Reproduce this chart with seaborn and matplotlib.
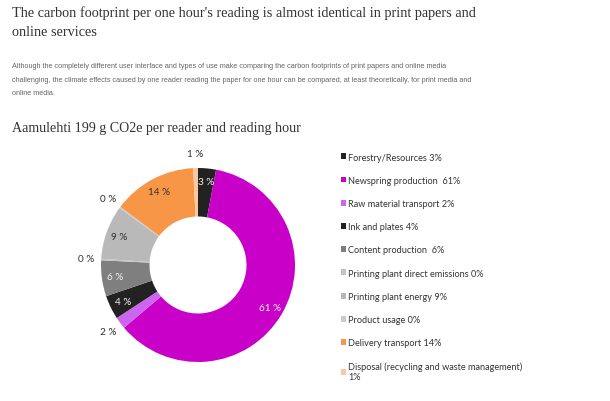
"""
Aamulehti carbon footprint donut chart
"""
import matplotlib
matplotlib.use("Agg")
import matplotlib.pyplot as plt
import seaborn as sns
import numpy as np

# Chart data
categories = [
    "Forestry/Resources 3%",
    "Newspring production  61%",
    "Raw material transport 2%",
    "Ink and plates 4%",
    "Content production  6%",
    "Printing plant direct emissions 0%",
    "Printing plant energy 9%",
    "Product usage 0%",
    "Delivery transport 14%",
    "Disposal (recycling and waste management)\n1%",
]
shares = [3, 61, 2, 4, 6, 0.25, 9, 0.25, 14, 0.8]
pct_labels = ["3 %", "61 %", "2 %", "4 %", "6 %", "0 %", "9 %", "0 %", "14 %", "1 %"]
colors = ["#222222", "#c800c8", "#cc66f0", "#222222", "#7f7f7f",
          "#c4c4c4", "#b9b9b9", "#cacaca", "#f79646", "#fac8a0"]
label_inside = [True, True, False, True, True, False, True, False, True, False]
label_light = [True, True, False, True, True, False, False, False, False, False]

title = ("The carbon footprint per one hour's reading is almost identical in print papers and\n"
         "online services")
intro = ("Although the completely different user interface and types of use make comparing the carbon "
         "footprints of print papers and online media\n"
         "challenging, the climate effects caused by one reader reading the paper for one hour can be "
         "compared, at least theoretically, for print media and\n"
         "online media.")
subtitle = "Aamulehti 199 g CO2e per reader and reading hour"

sns.set_theme(style="white")
plt.rcParams["font.family"] = ["Lato", "DejaVu Sans"]

W, H = 610, 402
fig = plt.figure(figsize=(W / 100, H / 100), dpi=100)
fig.patch.set_facecolor("white")

# header texts
fig.text(12 / W, 1 - 6 / H, title, ha="left", va="top", family="Liberation Serif",
         fontsize=10.3, color="#333333", linespacing=1.62)
fig.text(12 / W, 1 - 63 / H, intro, ha="left", va="top", family="Liberation Sans",
         fontsize=5.2, color="#666666", linespacing=2.3)
fig.text(12 / W, 1 - 122 / H, subtitle, ha="left", va="top", family="Liberation Serif",
         fontsize=10.1, color="#333333")

# donut
cx, cy, r = 198, 266, 97
side = 250
ax = fig.add_axes([(cx - side / 2) / W, (H - cy - side / 2) / H, side / W, side / H])
wedges, _ = ax.pie(shares, colors=colors, startangle=90, counterclock=False,
                   wedgeprops=dict(width=0.5, linewidth=0))
lim = side / 2 / r
ax.set_xlim(-lim, lim)
ax.set_ylim(-lim, lim)
ax.set_aspect("equal")
ax.axis("off")

for w, txt, inside, light in zip(wedges, pct_labels, label_inside, label_light):
    ang = np.deg2rad((w.theta1 + w.theta2) / 2)
    rad = 0.86 if inside else 1.15
    ax.text(rad * np.cos(ang), rad * np.sin(ang), txt, ha="center", va="center",
            fontsize=7.2, color="#f2f2f2" if light else "#333333")

# legend
leg = fig.legend(wedges, categories, loc="upper left", bbox_to_anchor=(336 / W, 1 - 149 / H),
                 frameon=False, fontsize=6.6, handlelength=0.6, handleheight=0.6,
                 handletextpad=0.25, labelspacing=1.55, borderpad=0, labelcolor="#333333")

fig.savefig("out.png", dpi=100, facecolor="white")
